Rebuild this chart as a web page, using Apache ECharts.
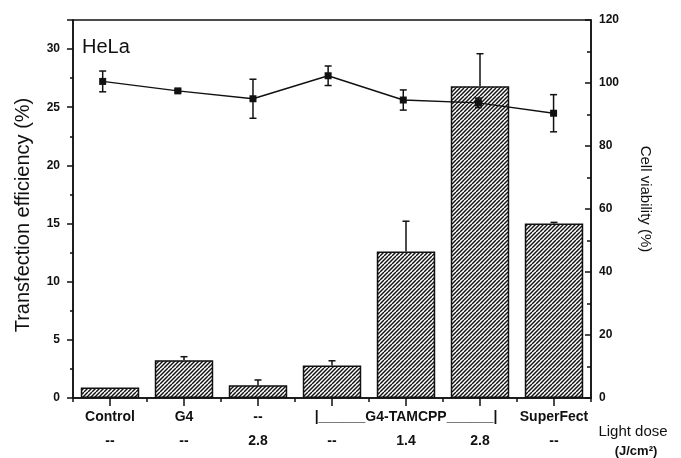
<!DOCTYPE html>
<html><head><meta charset="utf-8">
<script src="https://cdn.jsdelivr.net/npm/echarts@6/dist/echarts.min.js"></script>
<style>html,body{margin:0;padding:0;background:#fff;}#c{width:681px;height:458px;}</style>
</head><body><div id="c"></div>
<script>
// ---- data ----
const categories = ['Control', 'G4', '--', '', '|______G4-TAMCPP______|', '', 'SuperFect'];
const lightDose = ['--', '--', '2.8', '--', '1.4', '2.8', '--'];
const efficiency = [0.9, 3.25, 1.1, 2.8, 12.6, 26.8, 15.0];
const efficiencyErr = [0, 0.3, 0.45, 0.4, 2.6, 2.8, 0.1];
const viability = [100.5, 97.5, 95.0, 102.3, 94.6, 93.7, 90.4];
const viabilityErr = [3.3, 0.5, 6.2, 3.1, 3.2, 1.5, 5.9];
const leftAxisName = 'Transfection efficiency (%)';
const rightAxisName = 'Cell viability (%)';
const panelLabel = 'HeLa';
const doseTitle = ['Light dose', '(J/cm\u00B2)'];

const FONT = '"Liberation Sans", Arial, Helvetica, sans-serif';
const INK = '#111';

function hatch() {
  const c = document.createElement('canvas');
  c.width = 8; c.height = 8;
  const ctx = c.getContext('2d');
  ctx.fillStyle = '#fff'; ctx.fillRect(0, 0, 8, 8);
  ctx.strokeStyle = '#111'; ctx.lineWidth = 1.4;
  for (let k = -8; k <= 16; k += 4) {
    ctx.beginPath(); ctx.moveTo(k, 8); ctx.lineTo(k + 8, 0); ctx.stroke();
  }
  return c;
}

const chart = echarts.init(document.getElementById('c'), null, {renderer: 'canvas'});
const idx = categories.map((_, i) => i);

const option = {
  backgroundColor: '#fff',
  animation: false,
  grid: {left: 73, right: 90, top: 20, bottom: 60, show: true, borderColor: INK, borderWidth: 1.5, backgroundColor: 'transparent'},
  xAxis: [
    {
      type: 'category', data: idx, boundaryGap: true,
      axisLine: {show: true, onZero: false, lineStyle: {color: INK, width: 1.5}},
      axisTick: {show: true, alignWithLabel: true, length: 8, lineStyle: {color: INK, width: 1.5}},
      axisLabel: {
        interval: 0, margin: 7,
        formatter: v => '{a|' + (categories[v] || ' ') + '}\n{b|' + lightDose[v] + '}',
        rich: {
          a: {fontFamily: FONT, fontSize: 14, fontWeight: 'bold', color: INK, lineHeight: 24},
          b: {fontFamily: FONT, fontSize: 14, fontWeight: 'bold', color: INK, lineHeight: 24}
        }
      },
      splitLine: {show: false}
    },
    {
      type: 'value', min: -0.395, max: 6.498, show: false,
      axisLine: {onZero: false}
    },
    {
      type: 'category', data: idx, boundaryGap: true, position: 'bottom',
      axisLine: {show: false, onZero: false},
      axisTick: {show: true, length: 4, lineStyle: {color: INK, width: 1.5}},
      axisLabel: {show: false}, splitLine: {show: false}
    }
  ],
  yAxis: [
    {
      type: 'value', min: 0, max: 32.5, interval: 5, position: 'left',
      axisLine: {show: true, onZero: false, lineStyle: {color: INK, width: 1.5}},
      axisTick: {show: true, inside: false, length: 6, lineStyle: {color: INK, width: 1.5}},
      minorTick: {show: true, splitNumber: 2, length: 3, lineStyle: {color: INK, width: 1.5}},
      axisLabel: {fontFamily: FONT, fontSize: 12, fontWeight: 'bold', color: INK, margin: 13,
        formatter: v => (v > 30 ? '' : String(v))},
      splitLine: {show: false}
    },
    {
      type: 'value', min: 0, max: 120, interval: 20, position: 'right',
      axisLine: {show: true, onZero: false, lineStyle: {color: INK, width: 1.5}},
      axisTick: {show: true, inside: true, length: 6, lineStyle: {color: INK, width: 1.5}},
      minorTick: {show: true, splitNumber: 2, length: 4, lineStyle: {color: INK, width: 1.5}},
      axisLabel: {fontFamily: FONT, fontSize: 12, fontWeight: 'bold', color: INK, margin: 8},
      splitLine: {show: false}
    }
  ],
  series: [
    {
      type: 'bar', xAxisIndex: 0, yAxisIndex: 0,
      data: efficiency, barCategoryGap: '21%',
      itemStyle: {color: {image: hatch(), repeat: 'repeat'}, borderColor: INK, borderWidth: 1.5},
      z: 2
    },
    {
      type: 'custom', xAxisIndex: 0, yAxisIndex: 0,
      data: idx.map(i => [i, efficiency[i], efficiencyErr[i]]),
      renderItem: (params, api) => {
        const i = api.value(0), v = api.value(1), e = api.value(2);
        if (!e) return null;
        const p0 = api.coord([i, v]);
        const p1 = api.coord([i, v + e]);
        const w = 3.5;
        return {type: 'group', children: [
          {type: 'line', shape: {x1: p0[0], y1: p0[1], x2: p1[0], y2: p1[1]}, style: {stroke: INK, lineWidth: 1.5}},
          {type: 'line', shape: {x1: p1[0] - w, y1: p1[1], x2: p1[0] + w, y2: p1[1]}, style: {stroke: INK, lineWidth: 1.5}}
        ]};
      },
      z: 3
    },
    {
      type: 'custom', xAxisIndex: 1, yAxisIndex: 1,
      data: idx.map(i => [i, viability[i], viabilityErr[i]]),
      renderItem: (params, api) => {
        const i = api.value(0), v = api.value(1), e = api.value(2);
        const lo = api.coord([i, v - e]);
        const hi = api.coord([i, v + e]);
        const w = 3.5;
        return {type: 'group', children: [
          {type: 'line', shape: {x1: lo[0], y1: lo[1], x2: hi[0], y2: hi[1]}, style: {stroke: INK, lineWidth: 1.5}},
          {type: 'line', shape: {x1: hi[0] - w, y1: hi[1], x2: hi[0] + w, y2: hi[1]}, style: {stroke: INK, lineWidth: 1.5}},
          {type: 'line', shape: {x1: lo[0] - w, y1: lo[1], x2: lo[0] + w, y2: lo[1]}, style: {stroke: INK, lineWidth: 1.5}}
        ]};
      },
      z: 4
    },
    {
      type: 'line', xAxisIndex: 1, yAxisIndex: 1,
      data: idx.map(i => [i, viability[i]]),
      symbol: 'rect', symbolSize: 7,
      itemStyle: {color: INK},
      lineStyle: {color: INK, width: 1.4},
      z: 5
    }
  ],
  graphic: [
    {type: 'text', left: 82, top: 37, style: {text: panelLabel, font: '20px ' + FONT, fill: INK}},
    {type: 'text', x: 23, y: 215, rotation: Math.PI / 2,
      style: {text: leftAxisName, font: '20px ' + FONT, fill: INK, textAlign: 'center', textVerticalAlign: 'middle'}},
    {type: 'text', x: 645, y: 199, rotation: -Math.PI / 2,
      style: {text: rightAxisName, font: '15px ' + FONT, fill: INK, textAlign: 'center', textVerticalAlign: 'middle'}},
    {type: 'text', x: 633, y: 432,
      style: {text: doseTitle[0], font: '15px ' + FONT, fill: INK, textAlign: 'center', textVerticalAlign: 'middle'}},
    {type: 'text', x: 636, y: 451,
      style: {text: doseTitle[1], font: 'bold 13px ' + FONT, fill: INK, textAlign: 'center', textVerticalAlign: 'middle'}}
  ]
};
chart.setOption(option);
</script>
</body></html>
